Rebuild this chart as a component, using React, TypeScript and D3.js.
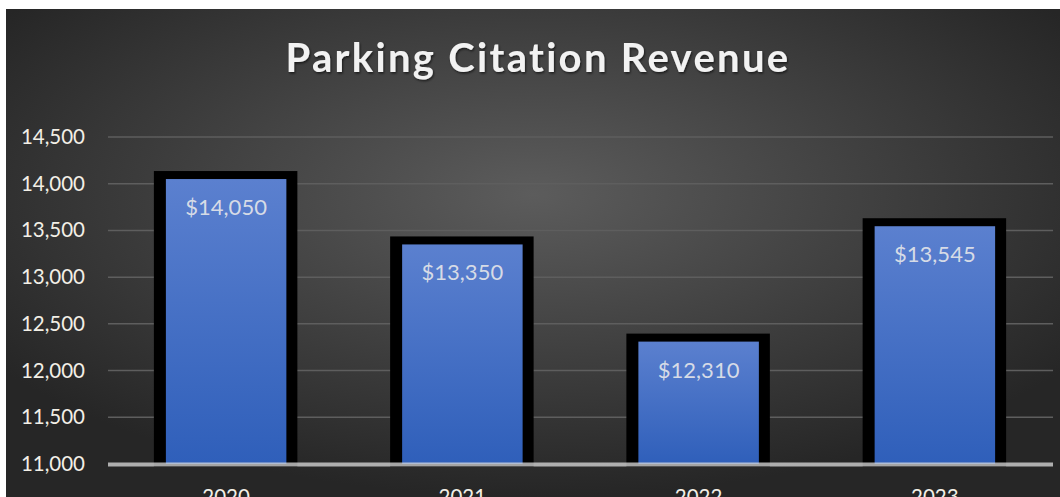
import React from "react";
import * as d3 from "d3";

const categories = ["2020", "2021", "2022", "2023"];
const values = [14050, 13350, 12310, 13545];
const yTicks = [11000, 11500, 12000, 12500, 13000, 13500, 14000, 14500];
const title = "Parking Citation Revenue";

const W = 1060;
const H = 497;
const plotLeft = 108;
const plotRight = 1053;
const plotTop = 137;
const plotBottom = 464;

export default function App() {
  const x = d3.scaleBand<string>().domain(categories).range([plotLeft, plotRight]).paddingInner(0.49).paddingOuter(0.245);
  const y = d3.scaleLinear().domain([11000, 14500]).range([plotBottom, plotTop]);
  const fmtTick = d3.format(",");
  const fmtVal = (v: number) => "$" + d3.format(",")(v);
  const bw = x.bandwidth();
  const font = "Lato, 'Open Sans', sans-serif";
  return (
    <svg width={W} height={H} style={{ position: "absolute", left: 0, top: 0 }} xmlns="http://www.w3.org/2000/svg">
      <defs>
        <radialGradient id="bg" cx="50%" cy="38%" r="62%">
          <stop offset="0%" stopColor="#5c5c5c" />
          <stop offset="100%" stopColor="#262626" />
        </radialGradient>
        <linearGradient id="bar" x1="0" y1="0" x2="0" y2="1">
          <stop offset="0%" stopColor="#5b80cf" />
          <stop offset="100%" stopColor="#2f5fba" />
        </linearGradient>
        <filter id="ts" x="-10%" y="-30%" width="120%" height="160%">
          <feDropShadow dx="1" dy="1.5" stdDeviation="1" floodColor="#000" floodOpacity="0.6" />
        </filter>
      </defs>
      <rect x={0} y={0} width={W} height={H} fill="#ffffff" />
      <rect x={6} y={9} width={W - 6} height={H - 9} fill="url(#bg)" />
      <text x={538} y={72} textAnchor="middle" fill="#f2f2f2" fontFamily={font} fontWeight={700} fontSize={40} letterSpacing={2.3} filter="url(#ts)">
        {title}
      </text>
      {yTicks.map((t) => (
        <g key={t}>
          {t !== 11000 && (
            <line x1={plotLeft} x2={plotRight} y1={y(t)} y2={y(t)} stroke="#5e5e5e" strokeWidth={1.5} />
          )}
          <text x={85} y={y(t) + 7} textAnchor="end" fill="#f2efe6" fontFamily={font} fontSize={20.5}>
            {fmtTick(t)}
          </text>
        </g>
      ))}
      {categories.map((c, i) => {
        const x0 = x(c) as number;
        const top = y(values[i]);
        return (
          <g key={c}>
            <rect x={x0 - 12} y={top - 8} width={bw + 23} height={plotBottom + 3 - (top - 8)} fill="#000000" />
            <rect x={x0} y={top} width={bw} height={plotBottom - top} fill="url(#bar)" />
            <text x={x0 + bw / 2} y={top + 36} textAnchor="middle" fill="#d6dbe6" fontFamily={font} fontSize={22}>
              {fmtVal(values[i])}
            </text>
            <text x={x0 + bw / 2} y={504} textAnchor="middle" fill="#f2efe6" fontFamily={font} fontSize={20.5}>
              {c}
            </text>
          </g>
        );
      })}
      <line x1={plotLeft} x2={plotRight} y1={plotBottom + 0.5} y2={plotBottom + 0.5} stroke="rgba(220,220,220,0.75)" strokeWidth={4} />
    </svg>
  );
}
